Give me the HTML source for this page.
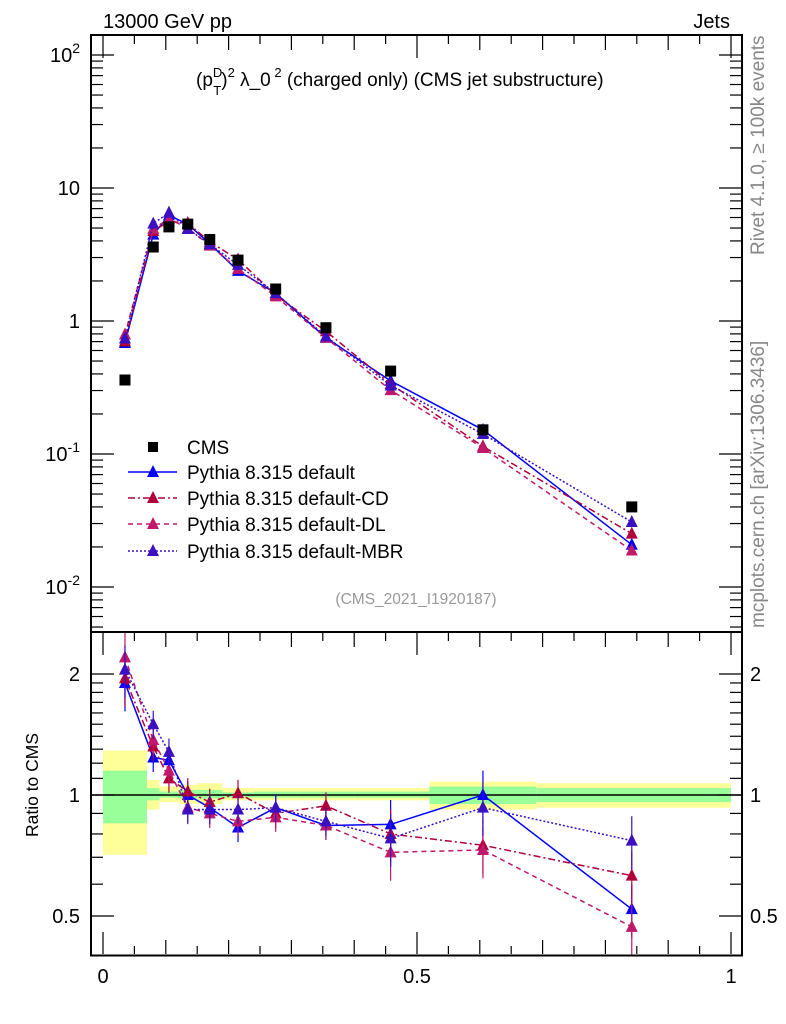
<!DOCTYPE html>
<html><head><meta charset="utf-8"><style>
html,body{margin:0;padding:0;background:#fff}
svg{display:block;font-family:"Liberation Sans",Arial,sans-serif}
</style></head><body>
<svg id="chart" width="786" height="1024" viewBox="0 0 786 1024" xmlns="http://www.w3.org/2000/svg">
<g id="bands"></g>
<g id="ticks"></g>
<g id="series"></g>
<rect x="91" y="35" width="651" height="597" fill="none" stroke="#000" stroke-width="2"/>
<rect x="91" y="632" width="651" height="323.5" fill="none" stroke="#000" stroke-width="2"/>
<text x="103" y="28" font-size="20">13000 GeV pp</text>
<text x="730" y="28" font-size="20" text-anchor="end">Jets</text>
<text x="196" y="86" font-size="19">(p<tspan font-size="13" dy="-9">D</tspan><tspan font-size="13" dx="-9" dy="18">T</tspan><tspan dy="-9">)</tspan><tspan font-size="13" dy="-9">2</tspan><tspan dy="9"> λ_0</tspan><tspan font-size="13" dy="-9"> 2</tspan><tspan dy="9"> (charged only) (CMS jet substructure)</tspan></text>
<text x="416" y="604" font-size="15.5" fill="#999" text-anchor="middle">(CMS_2021_I1920187)</text>
<text transform="translate(764,255) rotate(-90)" font-size="19" fill="#888">Rivet 4.1.0, ≥ 100k events</text>
<text transform="translate(764,628) rotate(-90)" font-size="19" fill="#888">mcplots.cern.ch [arXiv:1306.3436]</text>
<text transform="translate(38,785) rotate(-90)" font-size="17.5" text-anchor="middle">Ratio to CMS</text>
<g id="legend"></g>
</svg>
<script>
const edges=[0,0.07,0.09,0.12,0.15,0.19,0.24,0.31,0.40,0.52,0.69,1.0];
const xs=[0.035,0.08,0.105,0.135,0.17,0.215,0.275,0.355,0.458,0.605,0.842];
const cms=[0.36,3.6,5.1,5.35,4.1,2.87,1.74,0.89,0.42,0.152,0.040];
const ratioDefault=[1.9,1.24,1.22,1.0,0.93,0.83,0.93,0.84,0.845,1.0,0.52];
const ratioCD=[1.95,1.32,1.10,1.02,0.96,1.01,0.90,0.94,0.80,0.75,0.63];
const ratioDL=[2.2,1.37,1.15,0.93,0.90,0.86,0.88,0.84,0.72,0.73,0.47];
const ratioMBR=[2.05,1.5,1.28,0.92,0.92,0.92,0.93,0.86,0.78,0.93,0.77];
const greenLo=[0.85,0.97,0.985,0.98,0.98,0.985,0.985,0.985,0.985,0.95,0.96];
const greenHi=[1.15,1.04,1.02,1.03,1.03,1.015,1.02,1.02,1.02,1.05,1.04];
const yellowLo=[0.71,0.92,0.96,0.95,0.95,0.97,0.97,0.97,0.97,0.92,0.93];
const yellowHi=[1.29,1.09,1.05,1.06,1.07,1.04,1.04,1.04,1.04,1.08,1.07];
const mainTicks=["10<sup>-2</sup>","10<sup>-1</sup>","1","10","10<sup>2</sup>"];
const xTickLabels=["0","0.5","1"];
const ratioTickLabels=["0.5","1","2"];

const NS="http://www.w3.org/2000/svg";
const X=v=>103+v*628;
const Y=v=>321-133*Math.log10(v);
const R=v=>795-402*Math.log10(v);
function mk(p,tag,a){const e=document.createElementNS(NS,tag);for(const k in a)e.setAttribute(k,a[k]);p.appendChild(e);return e;}
const bands=document.getElementById('bands'),ticks=document.getElementById('ticks'),series=document.getElementById('series'),legend=document.getElementById('legend');

for(let i=0;i<xs.length;i++){
  let r=mk(bands,'rect',{x:X(edges[i]),y:R(yellowHi[i]),width:X(edges[i+1])-X(edges[i]),height:R(yellowLo[i])-R(yellowHi[i]),fill:'#ffff99'});
  
  
  let g=mk(bands,'rect',{x:X(edges[i]),y:R(greenHi[i]),width:X(edges[i+1])-X(edges[i]),height:R(greenLo[i])-R(greenHi[i]),fill:'#99ff99'});
  
  
}
mk(ticks,'line',{x1:91,x2:742,y1:R(1),y2:R(1),stroke:'#000','stroke-width':1.5});

for(let d=-3;d<=2;d++){for(let m=1;m<10;m++){const v=m*Math.pow(10,d);const y=Y(v);if(y<36||y>631)continue;const L=m==1?22:11;
 mk(ticks,'line',{x1:92,x2:92+L,y1:y,y2:y,stroke:'#000','stroke-width':1.2});
 mk(ticks,'line',{x1:741,x2:741-L,y1:y,y2:y,stroke:'#000','stroke-width':1.2});}}
const mainVals=[0.01,0.1,1,10,100];
mainVals.forEach((v,i)=>{const t=mk(ticks,'text',{x:80,y:Y(v)+7,'font-size':20,'text-anchor':'end'});
 
 
 const s=mainTicks[i];if(s.includes('sup')){const p=s.split('<sup>');t.textContent=p[0];const ts=mk(t,'tspan',{'font-size':14,dy:-9});ts.textContent=p[1].replace('</sup>','');}else t.textContent=s;});
for(const v of [0.5,0.6,0.7,0.8,0.9,1,1.1,1.2,1.3,1.4,1.5,1.6,1.7,1.8,1.9,2]){const y=R(v);const L=(v==0.5||v==1||v==2)?22:11;
 mk(ticks,'line',{x1:92,x2:92+L,y1:y,y2:y,stroke:'#000','stroke-width':1.2});
 mk(ticks,'line',{x1:741,x2:741-L,y1:y,y2:y,stroke:'#000','stroke-width':1.2});}
[0.5,1,2].forEach((v,i)=>{for(const [x,a] of [[80,'end'],[750,'start']]){const t=mk(ticks,'text',{x:x,y:R(v)+7,'font-size':20,'text-anchor':a});
 
 
 t.textContent=ratioTickLabels[i];}});
for(let k=0;k<=20;k++){const v=k*0.05;const x=X(v);const L=k%2==0?(k%10==0?22:14):8;
 for(const [yb,dir] of [[954,-1],[633,1],[36,1]]) mk(ticks,'line',{x1:x,x2:x,y1:yb,y2:yb+dir*L,stroke:'#000','stroke-width':1.2});}
[0,0.5,1].forEach((v,i)=>{const t=mk(ticks,'text',{x:X(v),y:983,'font-size':20,'text-anchor':'middle'});
 
 
 t.textContent=xTickLabels[i];});

const defs=[
 {name:'default',r:ratioDefault,c:'#0000ff',d:'',label:'Pythia 8.315 default'},
 {name:'cd',r:ratioCD,c:'#b0003c',d:'7,3,2,3',label:'Pythia 8.315 default-CD'},
 {name:'dl',r:ratioDL,c:'#c0186a',d:'5,4',label:'Pythia 8.315 default-DL'},
 {name:'mbr',r:ratioMBR,c:'#3a10c0',d:'2,2',label:'Pythia 8.315 default-MBR'}];
function tri(p,x,y,c){return mk(p,'path',{d:`M${x-6},${y+5}L${x+6},${y+5}L${x},${y-7}Z`,fill:c});}
defs.forEach(s=>{
 const g=mk(series,'g',{});
 
 
 const pm=xs.map((x,i)=>X(x)+','+Y(s.r[i]*cms[i])).join(' ');
 const pr=xs.map((x,i)=>X(x)+','+R(s.r[i])).join(' ');
 mk(g,'polyline',{points:pm,fill:'none',stroke:s.c,'stroke-width':1.5,'stroke-dasharray':s.d});
 mk(g,'polyline',{points:pr,fill:'none',stroke:s.c,'stroke-width':1.5,'stroke-dasharray':s.d});
 xs.forEach((x,i)=>{
  const e=0.05+0.1*(i==0||i>=8?1:0.3);
  mk(g,'line',{x1:X(x),x2:X(x),y1:R(s.r[i]*(1+e)),y2:R(s.r[i]*(1-e)),stroke:s.c,'stroke-width':1.2});
  const t1=tri(g,X(x),Y(s.r[i]*cms[i]),s.c);
  
  
  const t2=tri(g,X(x),R(s.r[i]),s.c);
  
  
 });
});
const gc=mk(series,'g',{});


xs.forEach((x,i)=>{const r=mk(gc,'rect',{x:X(x)-5.5,y:Y(cms[i])-5.5,width:11,height:11,fill:'#000'});
 
 });
const ly=[447,472,498,524,551];
mk(legend,'rect',{x:148,y:ly[0]-5,width:10,height:10,fill:'#000'});
let t0=mk(legend,'text',{x:187,y:ly[0]+7,'font-size':19});t0.textContent='CMS';


defs.forEach((s,i)=>{const y=ly[i+1];
 mk(legend,'line',{x1:128,x2:177,y1:y,y2:y,stroke:s.c,'stroke-width':1.5,'stroke-dasharray':s.d});
 tri(legend,153,y,s.c);
 const t=mk(legend,'text',{x:187,y:y+7,'font-size':19});t.textContent=s.label;
 
 });
</script>
</body></html>
